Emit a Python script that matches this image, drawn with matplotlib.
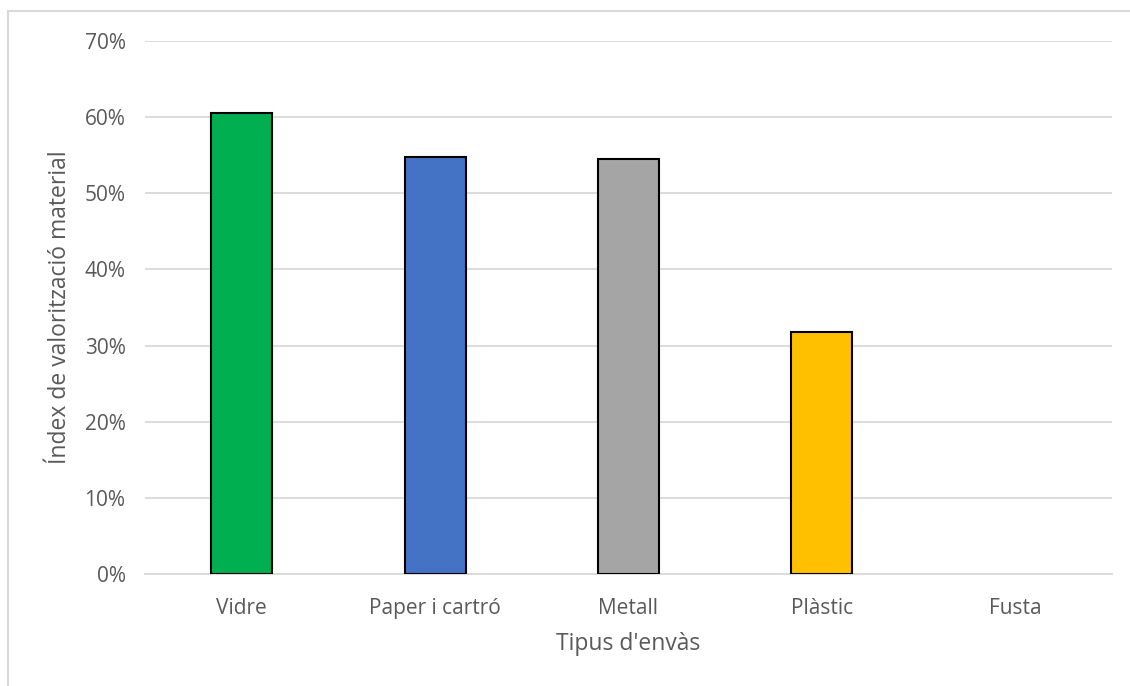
import matplotlib
matplotlib.use("Agg")
import matplotlib.pyplot as plt
from matplotlib.patches import Rectangle
from matplotlib.ticker import FuncFormatter

# dades
categories = ["Vidre", "Paper i cartró", "Metall", "Plàstic", "Fusta"]
valors = [0.605, 0.547, 0.545, 0.318, 0.0]
colors = ["#00B050", "#4472C4", "#A5A5A5", "#FFC000", "#7F7F7F"]

plt.rcParams['font.family'] = ['Open Sans', 'DejaVu Sans']
text_color = "#595959"

fig = plt.figure(figsize=(11.3, 6.86), dpi=100)
ax = fig.add_axes([145/1130, 1 - 574/686, (1112 - 145)/1130, (574 - 41)/686])

# marc exterior del gràfic
fig.patches.append(Rectangle((8/1130, -0.05), 1.1, 1 - 11/686 + 0.05,
                             transform=fig.transFigure, fill=False,
                             edgecolor="#d9d9d9", linewidth=1.5))

x = list(range(len(categories)))
gruix = [1.5 if v > 0 else 0 for v in valors]
ax.bar(x, valors, width=0.315, color=colors, edgecolor="black", linewidth=gruix, zorder=3)

ax.set_xlim(-0.5, len(categories) - 0.5)
ax.set_ylim(0, 0.70)
ax.set_yticks([i / 10 for i in range(8)])
ax.yaxis.set_major_formatter(FuncFormatter(lambda v, p: "{:.0f}%".format(v * 100)))
ax.set_xticks(x)
ax.set_xticklabels(categories)

ax.grid(axis="y", color="#d9d9d9", linewidth=1.3, zorder=0)
for s in ["top", "right", "left"]:
    ax.spines[s].set_visible(False)
ax.spines["bottom"].set_color("#d9d9d9")
ax.spines["bottom"].set_linewidth(1.3)
ax.tick_params(axis="both", length=0, labelsize=15, labelcolor=text_color)
ax.tick_params(axis="x", pad=17)
ax.tick_params(axis="y", pad=14)

ax.set_xlabel("Tipus d'envàs", fontsize=16.5, color=text_color, labelpad=10)
ax.set_ylabel("Índex de valorització material", fontsize=16.5, color=text_color, labelpad=9)

fig.savefig("out.png", dpi=100)
